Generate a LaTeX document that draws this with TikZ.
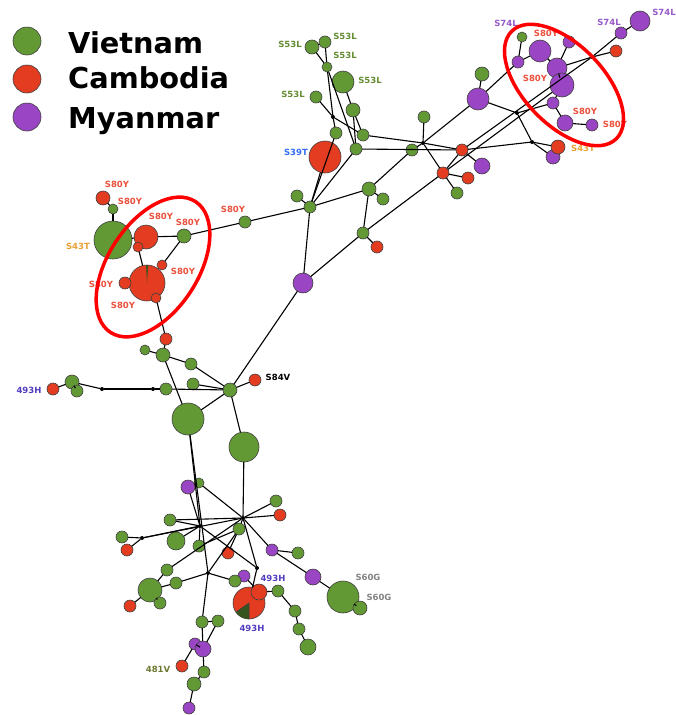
\documentclass[tikz,border=0pt]{standalone}
\usepackage{fontspec}
\setmainfont{DejaVu Sans}
\usepackage{tikz,tkz-graph}
\definecolor{vietGreen}{RGB}{98,153,52}
\definecolor{cambRed}{RGB}{228,60,32}
\definecolor{myanPurple}{RGB}{154,70,196}
\definecolor{s80Red}{RGB}{234,80,60}
\definecolor{s53Green}{RGB}{100,140,50}
\definecolor{s74Purple}{RGB}{150,90,200}
\definecolor{s39Blue}{RGB}{50,110,240}
\definecolor{s43Orange}{RGB}{232,160,50}
\definecolor{h493Blue}{RGB}{80,60,190}
\definecolor{s60Grey}{RGB}{130,130,130}
\definecolor{v481Olive}{RGB}{110,120,50}
\tikzstyle{vietNode}=[shape = circle, inner sep = 0pt, draw = black!75, line width = 0.6pt, fill = vietGreen]
\tikzstyle{cambNode}=[shape = circle, inner sep = 0pt, draw = black!75, line width = 0.6pt, fill = cambRed]
\tikzstyle{myanNode}=[shape = circle, inner sep = 0pt, draw = black!75, line width = 0.6pt, fill = myanPurple]
\tikzstyle{hubDot}=[shape = circle, minimum size = 4pt, inner sep = 0pt, fill = black]
\tikzstyle{hapLabel}=[inner sep = 0pt, font = \fontsize{8.5}{9}\selectfont\bfseries]
\tikzstyle{legendText}=[anchor = base west, inner sep = 0pt, font = \fontsize{28.8}{30}\selectfont\bfseries]
\tikzstyle{focusRing}=[draw = red, line width = 3.5pt]

\begin{document}
\begin{tikzpicture}[x = 1pt, y = -1pt]
\tikzstyle{VertexStyle} = []
\tikzstyle{EdgeStyle} = [line width = 1.1pt, black]
\tikzstyle{LabelStyle} = [fill = none, draw = none, inner sep = 0pt]
\SetVertexNoLabel
\useasboundingbox (0,0) rectangle (675,715);
% legend
\node[vietNode, minimum size = 28pt] (kV) at (27,41) {};
\node[cambNode, minimum size = 28pt] (kC) at (27,79) {};
\node[myanNode, minimum size = 28pt] (kM) at (27,117) {};
\node[legendText] (tV) at (68,53) {Vietnam};
\node[legendText] (tC) at (68,88) {Cambodia};
\node[legendText] (tM) at (68,128) {Myanmar};
% S53L / S39T part
\Vertex[style = {vietNode, minimum size = 14pt}, x = 312, y = 47]{v1}
\Vertex[style = {vietNode, minimum size = 12pt}, x = 325, y = 42]{v2}
\Vertex[style = {vietNode, minimum size = 10pt}, x = 327, y = 67]{v3}
\Vertex[style = {vietNode, minimum size = 22pt}, x = 343, y = 82]{v4}
\Vertex[style = {vietNode, minimum size = 12pt}, x = 316, y = 97]{v5}
\Vertex[style = {vietNode, minimum size = 14pt}, x = 353, y = 110]{v6}
\Vertex[style = hubDot, x = 333, y = 117]{j1}
\Vertex[style = {vietNode, minimum size = 12pt}, x = 336, y = 133]{v7}
\Vertex[style = {vietNode, minimum size = 12pt}, x = 363, y = 135]{v8}
\Vertex[style = {vietNode, minimum size = 12pt}, x = 356, y = 149]{v9}
\Vertex[style = {cambNode, minimum size = 32pt}, x = 325, y = 157]{v10}
\Vertex[style = {vietNode, minimum size = 12pt}, x = 412, y = 150]{v11}
\Vertex[style = hubDot, x = 423, y = 143]{j2}
\Vertex[style = {vietNode, minimum size = 12pt}, x = 424, y = 117]{v12}
\Vertex[style = {cambNode, minimum size = 12pt}, x = 462, y = 150]{v13}
\Vertex[style = {myanNode, minimum size = 16pt}, x = 482, y = 166]{v14}
\Vertex[style = {cambNode, minimum size = 12pt}, x = 443, y = 173]{v15}
\Vertex[style = {cambNode, minimum size = 12pt}, x = 468, y = 178]{v16}
\Vertex[style = {vietNode, minimum size = 12pt}, x = 457, y = 193]{v17}
\Vertex[style = {vietNode, minimum size = 14pt}, x = 369, y = 189]{v18}
\Vertex[style = {vietNode, minimum size = 12pt}, x = 383, y = 199]{v19}
\Vertex[style = {vietNode, minimum size = 12pt}, x = 297, y = 196]{v20}
\Vertex[style = {vietNode, minimum size = 12pt}, x = 310, y = 207]{v21}
\Vertex[style = {myanNode, minimum size = 22pt}, x = 478, y = 99]{v22}
\Vertex[style = {vietNode, minimum size = 14pt}, x = 482, y = 74]{v23}
\Vertex[style = {vietNode, minimum size = 12pt}, x = 363, y = 233]{v24}
\Vertex[style = {cambNode, minimum size = 12pt}, x = 377, y = 247]{v25}
\Vertex[style = {myanNode, minimum size = 20pt}, x = 303, y = 283]{v26}
% S74L / S80Y part
\Vertex[style = {myanNode, minimum size = 20pt}, x = 640, y = 21]{v27}
\Vertex[style = {myanNode, minimum size = 12pt}, x = 621, y = 33]{v28}
\Vertex[style = {cambNode, minimum size = 12pt}, x = 616, y = 51]{v29}
\Vertex[style = {vietNode, minimum size = 10pt}, x = 522, y = 37]{v30}
\Vertex[style = {myanNode, minimum size = 22pt}, x = 540, y = 51]{v31}
\Vertex[style = {myanNode, minimum size = 12pt}, x = 569, y = 42]{v32}
\Vertex[style = {myanNode, minimum size = 12pt}, x = 518, y = 62]{v33}
\Vertex[style = {myanNode, minimum size = 20pt}, x = 557, y = 68]{v34}
\Vertex[style = {myanNode, minimum size = 24pt}, x = 562, y = 85]{v35}
\Vertex[style = {myanNode, minimum size = 12pt}, x = 553, y = 103]{v36}
\Vertex[style = {myanNode, minimum size = 16pt}, x = 565, y = 123]{v37}
\Vertex[style = {myanNode, minimum size = 12pt}, x = 592, y = 125]{v38}
\Vertex[style = hubDot, x = 592, y = 57]{j3}
\Vertex[style = hubDot, x = 517, y = 113]{j4}
\Vertex[style = hubDot, x = 532, y = 142]{j5}
\Vertex[style = {myanNode, minimum size = 14pt}, x = 553, y = 157]{v40}
\Vertex[style = {cambNode, minimum size = 14pt}, x = 558, y = 147]{v39}
% S43T / S80Y part
\Vertex[style = {cambNode, minimum size = 14pt}, x = 103, y = 198]{v41}
\Vertex[style = {vietNode, minimum size = 10pt}, x = 113, y = 209]{v42}
\Vertex[style = {vietNode, minimum size = 38pt}, x = 113, y = 240]{v43}
\Vertex[style = {cambNode, minimum size = 24pt}, x = 146, y = 237]{v44}
\Vertex[style = {cambNode, minimum size = 10pt}, x = 138, y = 247]{v45}
\Vertex[style = {vietNode, minimum size = 14pt}, x = 184, y = 236]{v46}
\Vertex[style = {vietNode, minimum size = 12pt}, x = 245, y = 222]{v47}
\Vertex[style = {cambNode, minimum size = 36pt}, x = 147, y = 283]{v48}
\Vertex[style = {cambNode, minimum size = 10pt}, x = 162, y = 265]{v49}
\Vertex[style = {cambNode, minimum size = 12pt}, x = 125, y = 283]{v50}
\Vertex[style = {cambNode, minimum size = 10pt}, x = 156, y = 298]{v51}
\Vertex[style = {cambNode, minimum size = 12pt}, x = 166, y = 339]{v52}
\Vertex[style = {vietNode, minimum size = 10pt}, x = 145, y = 350]{v53}
\Vertex[style = {vietNode, minimum size = 14pt}, x = 163, y = 355]{v54}
\Vertex[style = {vietNode, minimum size = 12pt}, x = 191, y = 364]{v55}
% 493H / S84V row
\Vertex[style = {cambNode, minimum size = 12pt}, x = 53, y = 389]{v56}
\Vertex[style = {vietNode, minimum size = 14pt}, x = 72, y = 382]{v57}
\Vertex[style = {vietNode, minimum size = 12pt}, x = 77, y = 391]{v58}
\Vertex[style = hubDot, x = 102, y = 389]{j6}
\Vertex[style = hubDot, x = 153, y = 389]{j7}
\Vertex[style = {vietNode, minimum size = 12pt}, x = 166, y = 389]{v59}
\Vertex[style = {vietNode, minimum size = 12pt}, x = 193, y = 384]{v60}
\Vertex[style = {vietNode, minimum size = 14pt}, x = 230, y = 390]{v61}
\Vertex[style = {cambNode, minimum size = 12pt}, x = 255, y = 380]{v62}
\Vertex[style = {vietNode, minimum size = 32pt}, x = 188, y = 419]{v63}
\Vertex[style = {vietNode, minimum size = 30pt}, x = 244, y = 447]{v64}
% lower part
\Vertex[style = {vietNode, minimum size = 10pt}, x = 199, y = 483]{v66}
\Vertex[style = {myanNode, minimum size = 14pt}, x = 188, y = 487]{v65}
\Vertex[style = {vietNode, minimum size = 12pt}, x = 276, y = 501]{v67}
\Vertex[style = {cambNode, minimum size = 12pt}, x = 280, y = 515]{v68}
\Vertex[style = {vietNode, minimum size = 12pt}, x = 170, y = 520]{v69}
\Vertex[style = hubDot, x = 243, y = 518]{j8}
\Vertex[style = hubDot, x = 200, y = 526]{j9}
\Vertex[style = {vietNode, minimum size = 12pt}, x = 122, y = 537]{v70}
\Vertex[style = {cambNode, minimum size = 12pt}, x = 127, y = 550]{v71}
\Vertex[style = hubDot, x = 142, y = 538]{j10}
\Vertex[style = {vietNode, minimum size = 18pt}, x = 176, y = 541]{v72}
\Vertex[style = {vietNode, minimum size = 12pt}, x = 199, y = 546]{v73}
\Vertex[style = {vietNode, minimum size = 12pt}, x = 239, y = 529]{v74}
\Vertex[style = {cambNode, minimum size = 12pt}, x = 228, y = 553]{v75}
\Vertex[style = {myanNode, minimum size = 12pt}, x = 272, y = 550]{v76}
\Vertex[style = {vietNode, minimum size = 12pt}, x = 298, y = 553]{v77}
\Vertex[style = {vietNode, minimum size = 12pt}, x = 167, y = 570]{v78}
\Vertex[style = {vietNode, minimum size = 12pt}, x = 176, y = 583]{v79}
\Vertex[style = {vietNode, minimum size = 24pt}, x = 150, y = 590]{v80}
\Vertex[style = {cambNode, minimum size = 12pt}, x = 130, y = 606]{v81}
\Vertex[style = {vietNode, minimum size = 12pt}, x = 160, y = 603]{v82}
\Vertex[style = hubDot, x = 208, y = 573]{j11}
\Vertex[style = hubDot, x = 257, y = 568]{j12}
\Vertex[style = {myanNode, minimum size = 12pt}, x = 244, y = 576]{v83}
\Vertex[style = {vietNode, minimum size = 12pt}, x = 235, y = 581]{v84}
\Vertex[style = {cambNode, minimum size = 32pt}, x = 249, y = 603]{v85}
\Vertex[style = {myanNode, minimum size = 16pt}, x = 313, y = 577]{v87}
\Vertex[style = {vietNode, minimum size = 32pt}, x = 343, y = 597]{v88}
\Vertex[style = {vietNode, minimum size = 14pt}, x = 360, y = 608]{v89}
\Vertex[style = {vietNode, minimum size = 12pt}, x = 278, y = 591]{v90}
\Vertex[style = {vietNode, minimum size = 12pt}, x = 295, y = 611]{v91}
\Vertex[style = {vietNode, minimum size = 12pt}, x = 299, y = 629]{v92}
\Vertex[style = {vietNode, minimum size = 16pt}, x = 308, y = 647]{v93}
\Vertex[style = {vietNode, minimum size = 12pt}, x = 202, y = 622]{v94}
\Vertex[style = {vietNode, minimum size = 12pt}, x = 218, y = 621]{v95}
\Vertex[style = {myanNode, minimum size = 12pt}, x = 195, y = 644]{v96}
\Vertex[style = {myanNode, minimum size = 16pt}, x = 203, y = 649]{v97}
\Vertex[style = {cambNode, minimum size = 12pt}, x = 182, y = 666]{v98}
\Vertex[style = {vietNode, minimum size = 12pt}, x = 204, y = 672]{v99}
\Vertex[style = {vietNode, minimum size = 14pt}, x = 194, y = 684]{v100}
\Vertex[style = {myanNode, minimum size = 12pt}, x = 189, y = 708]{v101}
% mixed haplotypes
\fill[vietGreen!55!black] (v85.center) -- ++(90:16) arc [start angle = 90, end angle = 145, radius = 16] -- cycle;
\draw[black!75, line width = 0.6pt] (v85.center) -- ++(90:16) (v85.center) -- ++(145:16);
\Vertex[style = {cambNode, minimum size = 16pt}, x = 259, y = 592]{v86}
\fill[vietGreen!55!black] (v48.center) -- ++(-86:18) arc [start angle = -86, end angle = -93, radius = 18] -- cycle;
% edges
\Edge(v1)(v2)
\Edge(v1)(v3)
\Edge(v2)(v3)
\Edge(v3)(j1)
\Edge(v3)(v9)
\Edge(v4)(v6)
\Edge(v5)(j1)
\Edge(j1)(v7)
\Edge(j1)(v8)
\Edge(v6)(v8)
\Edge(v6)(v9)
\Edge(v7)(v21)
\Edge(v9)(v21)
\Edge(v10)(v21)
\Edge(v8)(j2)
\Edge(v9)(v13)
\Edge(v11)(j2)
\Edge(j2)(v12)
\Edge(j2)(v13)
\Edge(j2)(v15)
\Edge(j2)(v22)
\Edge(v13)(v14)
\Edge(v13)(v15)
\Edge(v13)(j5)
\Edge(v13)(j3)
\Edge(v15)(v16)
\Edge(v15)(v17)
\Edge(v15)(v24)
\Edge(v15)(v35)
\Edge(v18)(v11)
\Edge(v18)(v19)
\Edge(v18)(v21)
\Edge(v18)(v24)
\Edge(v24)(v25)
\Edge(v24)(v26)
\Edge(v21)(v26)
\Edge(v21)(v20)
\Edge(v21)(v47)
\Edge(v47)(v46)
\Edge(v22)(v23)
\Edge(v22)(j4)
\Edge(v22)(v33)
\Edge(v33)(v30)
\Edge(v33)(v31)
\Edge(v31)(v34)
\Edge(v34)(v32)
\Edge(v34)(v35)
\Edge(v34)(j3)
\Edge(v35)(v36)
\Edge(v36)(v37)
\Edge(v37)(v38)
\Edge(v36)(j4)
\Edge(j4)(j5)
\Edge(j5)(v39)
\Edge(j5)(v40)
\Edge(j3)(v28)
\Edge(v28)(v27)
\Edge(j3)(v29)
\Edge(v41)(v42)
\Edge(v42)(v43)
\Edge(v43)(v44)
\Edge(v44)(v46)
\Edge(v45)(v48)
\Edge(v46)(v49)
\Edge(v51)(v52)
\Edge(v52)(v54)
\Edge(v53)(v54)
\Edge(v54)(v55)
\Edge(v55)(v61)
\Edge(v54)(v63)
\Edge(v56)(v57)
\Edge(v57)(v58)
\Edge(v57)(j6)
\Edge(j6)(j7)
\Edge(j7)(v59)
\Edge(v59)(v61)
\Edge(v60)(v61)
\Edge(v61)(v62)
\Edge(v61)(v26)
\Edge(v61)(v63)
\Edge(v61)(v64)
\Edge(v63)(j9)
\Edge(v63)(j11)
\Edge(v64)(j8)
\Edge(v65)(v66)
\Edge(v65)(j9)
\Edge(v66)(j8)
\Edge(j9)(v69)
\Edge(v69)(j8)
\Edge(j8)(v67)
\Edge(j8)(v68)
\Edge(j8)(v74)
\Edge(j8)(v76)
\Edge(j8)(j10)
\Edge(j8)(j12)
\Edge(j9)(j10)
\Edge(j10)(v70)
\Edge(j10)(v71)
\Edge(j9)(v72)
\Edge(j9)(v73)
\Edge(j9)(j12)
\Edge(v74)(v73)
\Edge(v74)(v75)
\Edge(v74)(j11)
\Edge(v76)(v77)
\Edge(v76)(v87)
\Edge(v87)(v88)
\Edge(v88)(v89)
\Edge(v78)(v80)
\Edge(v78)(j8)
\Edge(v79)(v80)
\Edge(v80)(v81)
\Edge(v80)(v82)
\Edge(v79)(j11)
\Edge(j11)(v84)
\Edge(j11)(v94)
\Edge(j12)(v85)
\Edge(v83)(v86)
\Edge(v86)(v90)
\Edge(v90)(v91)
\Edge(v91)(v92)
\Edge(v92)(v93)
\Edge(v94)(v95)
\Edge(v94)(v97)
\Edge(v95)(v97)
\Edge(v97)(v96)
\Edge(v96)(v98)
\Edge(v97)(v99)
\Edge(v99)(v100)
\Edge(v100)(v101)
% labels
\node[hapLabel, text = s53Green] (l1) at (290,44) {S53L};
\node[hapLabel, text = s53Green] (l2) at (345,36) {S53L};
\node[hapLabel, text = s53Green] (l3) at (345,55) {S53L};
\node[hapLabel, text = s53Green] (l4) at (370,80) {S53L};
\node[hapLabel, text = s53Green] (l5) at (293,94) {S53L};
\node[hapLabel, text = s39Blue] (l6) at (296,152) {S39T};
\node[hapLabel, text = s74Purple] (l7) at (506,23) {S74L};
\node[hapLabel, text = s74Purple] (l8) at (609,22) {S74L};
\node[hapLabel, text = s74Purple] (l9) at (664,12) {S74L};
\node[hapLabel, text = s80Red] (l10) at (546,33) {S80Y};
\node[hapLabel, text = s80Red] (l11) at (535,78) {S80Y};
\node[hapLabel, text = s80Red] (l12) at (585,111) {S80Y};
\node[hapLabel, text = s80Red] (l13) at (615,124) {S80Y};
\node[hapLabel, text = s43Orange] (l14) at (583,148) {S43T};
\node[hapLabel, text = s80Red] (l15) at (117,184) {S80Y};
\node[hapLabel, text = s80Red] (l16) at (130,201) {S80Y};
\node[hapLabel, text = s80Red] (l17) at (161,216) {S80Y};
\node[hapLabel, text = s80Red] (l18) at (188,222) {S80Y};
\node[hapLabel, text = s80Red] (l19) at (233,209) {S80Y};
\node[hapLabel, text = s80Red] (l20) at (183,271) {S80Y};
\node[hapLabel, text = s80Red] (l21) at (101,284) {S80Y};
\node[hapLabel, text = s80Red] (l22) at (123,305) {S80Y};
\node[hapLabel, text = s43Orange] (l23) at (78,246) {S43T};
\node[hapLabel, text = h493Blue] (l24) at (29,390) {493H};
\node[hapLabel, text = black] (l25) at (278,377) {S84V};
\node[hapLabel, text = h493Blue] (l26) at (273,578) {493H};
\node[hapLabel, text = h493Blue] (l27) at (252,628) {493H};
\node[hapLabel, text = s60Grey] (l28) at (368,577) {S60G};
\node[hapLabel, text = s60Grey] (l29) at (379,597) {S60G};
\node[hapLabel, text = v481Olive] (l30) at (158,669) {481V};
% highlighted groups
\draw[focusRing, rotate around = {57:(153,267)}] (153,267) ellipse [x radius = 78, y radius = 45];
\draw[focusRing, rotate around = {-46:(564,85)}] (564,85) ellipse [x radius = 75, y radius = 40];
\end{tikzpicture}
\end{document}
